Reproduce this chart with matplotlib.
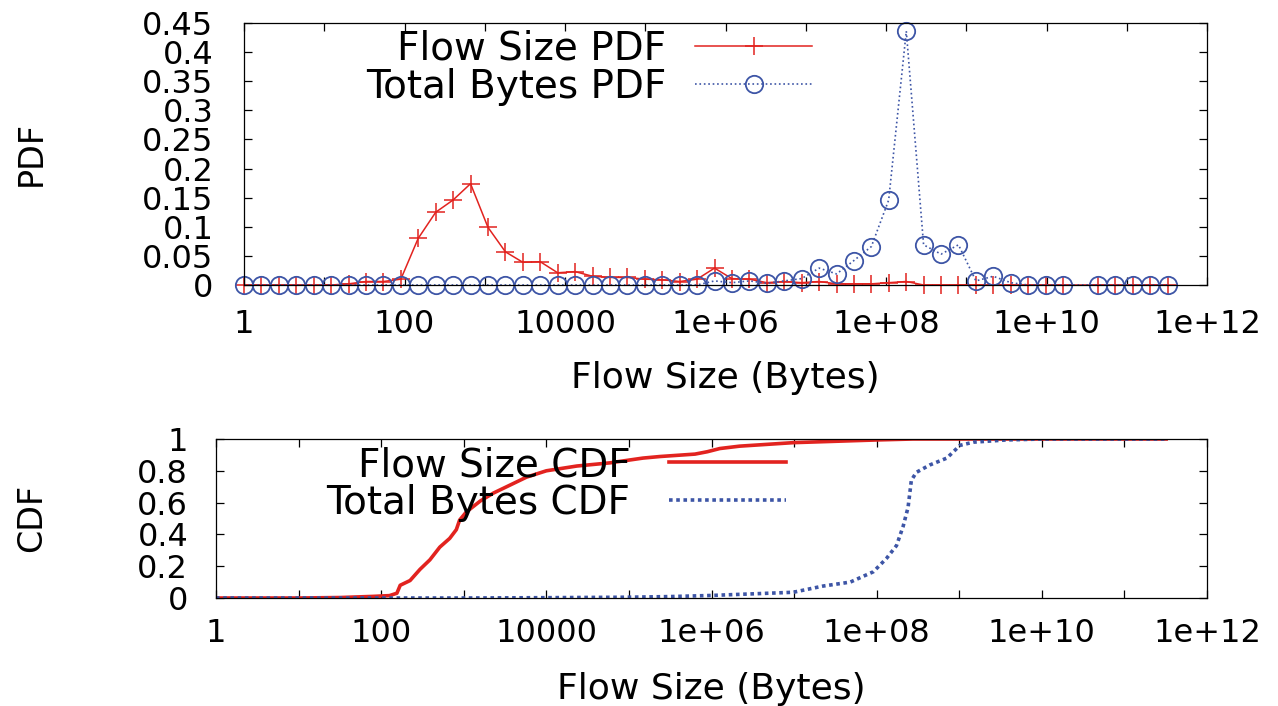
# flow size / total bytes PDF and CDF

import numpy as np
import matplotlib.pyplot as plt

# PDF bins (bytes), one bin per half e-fold
bin_size = [1, 1.65, 2.72, 4.48, 7.39, 12.2, 20.1, 33.1, 54.6, 90.0,
            148, 245, 403, 665, 1097, 1808, 2981, 4915, 8103, 13360,
            22026, 36316, 59874, 98716, 162755, 268337, 442413, 729416, 1.20e6, 1.98e6,
            3.27e6, 5.39e6, 8.89e6, 1.47e7, 2.42e7, 3.98e7, 6.57e7, 1.08e8, 1.79e8, 2.94e8,
            4.85e8, 8.00e8, 1.32e9, 2.17e9, 3.59e9, 5.91e9, 9.74e9, 1.61e10,
            4.37e10, 7.20e10, 1.19e11, 1.96e11, 3.23e11]

flow_pdf = [0, 0, 0, 0, 0, 0, 0.002, 0.006, 0.006, 0.010,
            0.080, 0.125, 0.146, 0.174, 0.099, 0.057, 0.039, 0.040, 0.021, 0.023,
            0.015, 0.013, 0.013, 0.010, 0.009, 0.006, 0.010, 0.029, 0.011, 0.010,
            0.004, 0.006, 0.004, 0.006, 0.002, 0.002, 0.002, 0.004, 0.006, 0,
            0, 0, 0, 0, 0, 0, 0, 0,
            0, 0, 0, 0, 0]

bytes_pdf = [0, 0, 0, 0, 0, 0, 0, 0, 0, 0,
             0, 0, 0, 0, 0, 0, 0, 0, 0, 0,
             0, 0, 0, 0, 0, 0, 0, 0.007, 0.004, 0.007,
             0.003, 0.007, 0.011, 0.029, 0.019, 0.042, 0.066, 0.146, 0.436, 0.069,
             0.053, 0.069, 0.007, 0.015, 0.004, 0, 0, 0,
             0, 0, 0, 0, 0]

# CDF curves
flow_cdf_x = [1, 10, 32, 79, 126, 155, 170, 224, 295, 389, 513, 676, 813, 891, 1070,
              1585, 2290, 3630, 5750, 10000, 23400, 58900, 148000, 240000, 631000,
              891000, 1.26e6, 2.19e6, 9.77e6, 1.0e8, 2.75e8, 3.2e11]
flow_cdf = [0, 0, 0.003, 0.01, 0.015, 0.03, 0.08, 0.11, 0.18, 0.24, 0.32, 0.375, 0.43, 0.49, 0.54,
            0.61, 0.66, 0.71, 0.76, 0.80, 0.83, 0.85, 0.88, 0.89, 0.905,
            0.92, 0.94, 0.955, 0.977, 0.994, 1.0, 1.0]

bytes_cdf_x = [1, 1000, 10000, 1e5, 3.16e5, 1e6, 2.19e6, 9.77e6, 2.24e7, 4.79e7, 9.12e7,
               1.32e8, 1.74e8, 2.09e8, 2.40e8, 2.63e8, 3.02e8, 4.37e8, 7.08e8, 1.02e9,
               1.48e9, 3.72e9, 1e10, 3.2e11]
bytes_cdf = [0, 0, 0.002, 0.005, 0.009, 0.016, 0.023, 0.036, 0.075, 0.10, 0.165,
             0.25, 0.33, 0.45, 0.57, 0.74, 0.79, 0.836, 0.88, 0.96,
             0.98, 0.994, 1.0, 1.0]

xticks = [10.0 ** e for e in range(13)]
xticklabels = ["1", "", "100", "", "10000", "", "1e+06", "", "1e+08", "", "1e+10", "", "1e+12"]
pdf_ticks = [0, 0.05, 0.1, 0.15, 0.2, 0.25, 0.3, 0.35, 0.4, 0.45]
pdf_labels = ["0", "0.05", "0.1", "0.15", "0.2", "0.25", "0.3", "0.35", "0.4", "0.45"]
cdf_ticks = [0, 0.2, 0.4, 0.6, 0.8, 1]
cdf_labels = ["0", "0.2", "0.4", "0.6", "0.8", "1"]

red = "#e2231f"
blue = "#3d55a6"

W, H = 1278, 706
fig = plt.figure(figsize=(W / 100, H / 100), dpi=100)
ax1 = fig.add_axes([244 / W, 1 - 285 / H, (1207 - 244) / W, (285 - 23) / H])
ax2 = fig.add_axes([216 / W, 1 - 598 / H, (1207 - 216) / W, (598 - 439) / H])

# top: PDF
ax1.plot(bin_size, flow_pdf, color=red, lw=1.1, marker="+", ms=13, mew=1.1,
         clip_on=False, label="Flow Size PDF")
ax1.plot(bin_size, bytes_pdf, color=blue, lw=1.2, ls=":", marker="o", ms=12.5,
         mfc="none", mec=blue, mew=1.3, clip_on=False, label="Total Bytes PDF")
ax1.set_ylim(0, 0.45)
ax1.set_yticks(pdf_ticks)
ax1.set_yticklabels(pdf_labels)

# bottom: CDF
ax2.plot(flow_cdf_x, flow_cdf, color=red, lw=2.6, label="Flow Size CDF")
ax2.plot(bytes_cdf_x, bytes_cdf, color=blue, lw=2.6, ls=(0, (1, 1)),
         dash_capstyle="butt", label="Total Bytes CDF")
ax2.set_ylim(0, 1)
ax2.set_yticks(cdf_ticks)
ax2.set_yticklabels(cdf_labels)

for ax, xpad, ypad in ((ax1, 17, 22), (ax2, 14.5, 20)):
    ax.set_xscale("log")
    ax.set_xlim(1, 1e12)
    ax.set_xticks(xticks)
    ax.set_xticklabels(xticklabels)
    ax.xaxis.set_minor_locator(plt.NullLocator())
    ax.tick_params(direction="in", top=True, right=True, length=6, width=0.9, labelsize=23)
    ax.tick_params(axis="x", pad=xpad)
    ax.tick_params(axis="y", pad=ypad)
    ax.set_xlabel("Flow Size (Bytes)", fontsize=26)
    for s in ax.spines.values():
        s.set_linewidth(0.9)

ax1.set_ylabel("PDF", fontsize=24)
ax2.set_ylabel("CDF", fontsize=24)
ax1.yaxis.set_label_coords(-0.2035, 0.504)
ax2.yaxis.set_label_coords(-0.1695, 0.503)
ax1.xaxis.set_label_coords(0.4995, -0.29)
ax2.xaxis.set_label_coords(0.50, -0.465)

ax1.legend(loc="upper right", bbox_to_anchor=(812 / W, 1 - 30 / H), bbox_transform=fig.transFigure,
           frameon=False, markerfirst=False, fontsize=28, borderpad=0, borderaxespad=0,
           labelspacing=0.0, handlelength=3.0, handletextpad=0.75)
ax2.legend(loc="upper right", bbox_to_anchor=(786 / W, 1 - 446 / H), bbox_transform=fig.transFigure,
           frameon=False, markerfirst=False, fontsize=28, borderpad=0, borderaxespad=0,
           labelspacing=0.0, handlelength=3.0, handletextpad=1.0)

fig.savefig("out.png", dpi=100)
